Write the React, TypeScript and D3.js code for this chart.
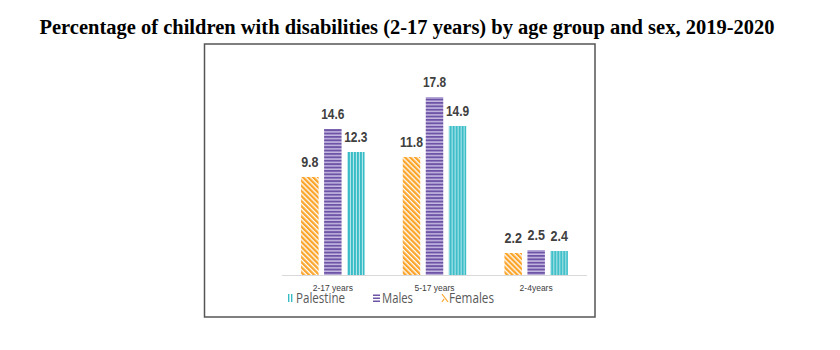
import React from "react";
import * as d3 from "d3";

const categories = ["2-17 years", "5-17 years", "2-4years"];
const seriesNames = ["Females", "Males", "Palestine"];
const females = [9.8, 11.8, 2.2];
const males = [14.6, 17.8, 2.5];
const palestine = [12.3, 14.9, 2.4];
const legendOrder = ["Palestine", "Males", "Females"];

const W = 840;
const H = 350;

const App = () => {
  const x0 = d3.scaleBand<string>().domain(categories).range([282, 587]).padding(0);
  const x1 = d3
    .scaleBand<string>()
    .domain(seriesNames)
    .range([0, x0.bandwidth()])
    .paddingInner(0.24)
    .paddingOuter(0.83);
  const y = d3.scaleLinear().domain([0, 20]).range([275, 75]);

  const values: Record<string, number[]> = {
    Females: females,
    Males: males,
    Palestine: palestine,
  };
  const fills: Record<string, string> = {
    Females: "url(#pFem)",
    Males: "url(#pMale)",
    Palestine: "url(#pPal)",
  };

  // legend positions (marker x, text x, text width)
  const legendPos: Record<string, [number, number, number]> = {
    Palestine: [288, 296, 49],
    Males: [373, 382, 31],
    Females: [442, 449, 45],
  };

  return (
    <svg
      width={W}
      height={H}
      style={{ position: "absolute", left: 0, top: 0, background: "#fff" }}
    >
      <defs>
        <pattern id="pFem" width={3.6} height={3.6} patternUnits="userSpaceOnUse" patternTransform="rotate(-45)">
          <rect width={3.6} height={3.6} fill="#fff" />
          <rect width={2.3} height={3.6} fill="#FBA42A" />
        </pattern>
        <pattern id="pMale" width={4} height={3.4} patternUnits="userSpaceOnUse">
          <rect width={4} height={3.4} fill="#C6BAE2" />
          <rect width={4} height={1.9} fill="#6E54A6" />
        </pattern>
        <pattern id="pPal" width={3} height={4} patternUnits="userSpaceOnUse">
          <rect width={3} height={4} fill="#B5E5EA" />
          <rect width={1.9} height={4} fill="#38BDC7" />
        </pattern>
      </defs>

      <text
        x={407}
        y={34}
        textAnchor="middle"
        fontFamily="'Liberation Serif', 'Times New Roman', serif"
        fontWeight="bold"
        fontSize={20}
        textLength={735}
        lengthAdjust="spacingAndGlyphs"
        fill="#000"
      >
        Percentage of children with disabilities (2-17 years) by age group and sex, 2019-2020
      </text>

      <rect x={204.5} y={44} width={390.5} height={273} fill="none" stroke="#555" strokeWidth={1.5} />

      <line x1={282} x2={587} y1={275.5} y2={275.5} stroke="#D9D9D9" strokeWidth={1} />

      {categories.map((c, i) => (
        <g key={c} transform={`translate(${x0(c)},0)`}>
          {seriesNames.map((s) => {
            const v = values[s][i];
            const bx = x1(s) as number;
            const label = v.toFixed(1);
            return (
              <g key={s}>
                <rect
                  x={bx}
                  y={y(v)}
                  width={x1.bandwidth()}
                  height={y(0) - y(v)}
                  fill={fills[s]}
                />
                <text
                  x={bx + x1.bandwidth() / 2}
                  y={y(v) - 10}
                  textAnchor="middle"
                  fontFamily="'Liberation Sans', Arial, sans-serif"
                  fontWeight="bold"
                  fontSize={14}
                  textLength={label.length * 5.8}
                  lengthAdjust="spacingAndGlyphs"
                  fill="#404040"
                >
                  {label}
                </text>
              </g>
            );
          })}
          <text
            x={x0.bandwidth() / 2}
            y={290.5}
            textAnchor="middle"
            fontFamily="'Liberation Sans', Arial, sans-serif"
            fontSize={8.5}
            fill="#404040"
          >
            {c}
          </text>
        </g>
      ))}

      {legendOrder.map((s) => {
        const [mx, tx, tw] = legendPos[s];
        return (
          <g key={s}>
            {s === "Palestine" && (
              <g fill="#38BDC7">
                <rect x={mx} y={294} width={1.4} height={8} />
                <rect x={mx + 3} y={294} width={1.4} height={8} />
              </g>
            )}
            {s === "Males" && (
              <g fill="#6E54A6">
                <rect x={mx} y={294.5} width={7} height={1.5} />
                <rect x={mx} y={297.5} width={7} height={1.5} />
                <rect x={mx} y={300.5} width={7} height={1.5} />
              </g>
            )}
            {s === "Females" && (
              <g stroke="#FBA42A" strokeWidth={1.2}>
                <line x1={mx} y1={294} x2={mx + 6} y2={302} />
                <line x1={mx} y1={302} x2={mx + 2} y2={299} />
              </g>
            )}
            <text
              x={tx}
              y={303}
              fontFamily="'Open Sans', 'Liberation Sans', sans-serif"
              fontSize={14}
              textLength={tw}
              lengthAdjust="spacingAndGlyphs"
              fill="#595959"
            >
              {s}
            </text>
          </g>
        );
      })}
    </svg>
  );
};

export default App;
